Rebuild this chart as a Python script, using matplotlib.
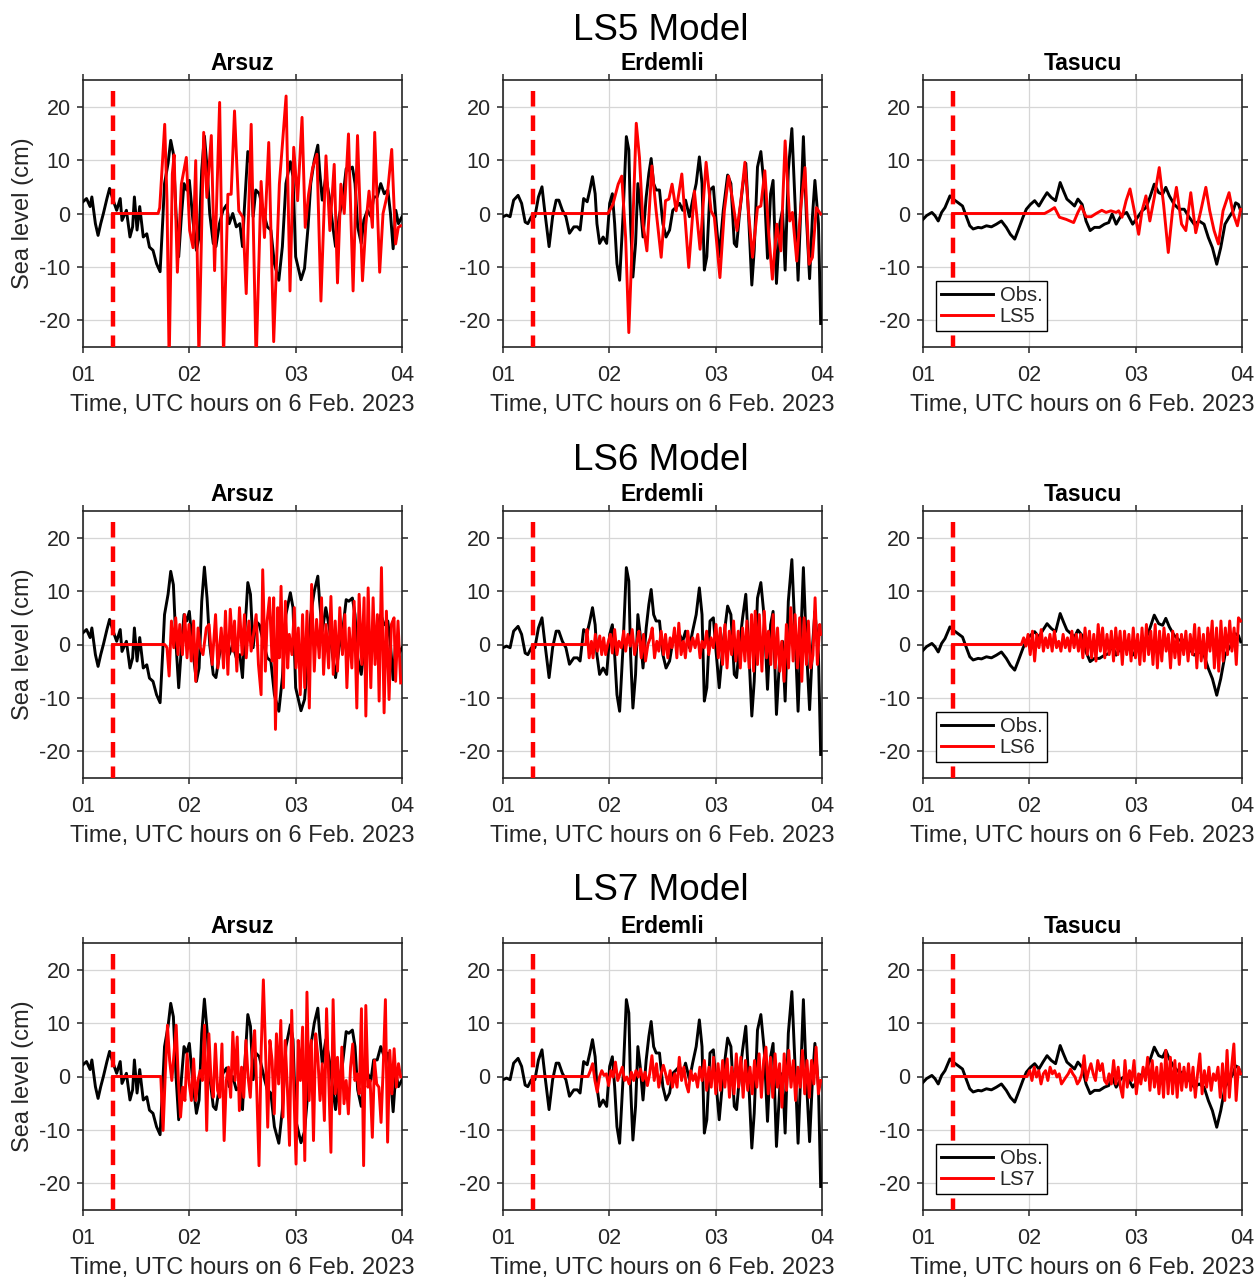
import numpy as np
import matplotlib
matplotlib.use('Agg')
import matplotlib.pyplot as plt

plt.rcParams['font.family'] = ['Liberation Sans', 'DejaVu Sans']
plt.rcParams['axes.unicode_minus'] = False

# times are minutes after 01:00 UTC, sea level in cm
t_quake = 16.7

stations = ['Arsuz', 'Erdemli', 'Tasucu']
models = ['LS5', 'LS6', 'LS7']

# ---- observed records ----
arsuz_obs_t = [0, 2, 4, 5, 7, 8.5, 10, 11.5, 13.5, 15, 17, 19, 21, 22, 24.5, 26.5, 28, 29, 30.5, 32,
               34, 36, 37.5, 39.5, 41.5, 43.5, 45, 46, 48, 49.5, 51, 52.5, 54, 55.5, 57, 58.5, 60, 62, 64, 65.5,
               67, 68.5, 70, 71.5, 73.5, 75, 77, 79, 81, 82.5, 84.5, 86.5, 88.5, 90, 91, 93, 94.5, 96, 97.5, 99.5,
               102.5, 104, 106, 108, 110.5, 112.5, 114.5, 117, 118.5, 120, 123, 125, 127, 128.5, 130.5, 132.5,
               133.5, 135, 137, 139, 141, 142.5, 144.5, 146.5, 148.5, 150, 152, 153.5, 155, 157, 158.5, 160.5,
               162.5, 164, 166, 168, 170, 172, 173.5, 175, 176.5, 178, 180]
arsuz_obs = [2.2, 2.8, 1.3, 3.1, -1.9, -4.1, -1.9, 0, 2.8, 4.7, 2.5, 0.6, 2.8, -1.3, 0.6, -4.4, -2.5, 3.1, -3.1, 1.3,
             -4.4, -3.8, -6.3, -6.9, -9.4, -10.9, -1.3, 5.6, 9.4, 13.7, 11.2, 0, -8.1, -0.6, 5.6, 4.4, 6.2, -1.2, -6.9, -4.4,
             8.1, 14.5, 8.7, 0, -5.6, -6.2, -1.9, 0.6, 1.6, -1.9, 0, -2.5, -1.9, -6.2, 0.6, 11.6, 9.4, -0.6, 4.4, 3.7,
             -0.6, -2.5, -3.1, -9.4, -12.5, -6.2, 5.6, 9.7, 6.9, -8.1, -12.4, -10.3, -2.5, 5.6, 10, 12.8, 8.1, 2.5, 6.9, 3.1,
             -2.5, -6.2, -0.6, 2.5, 8.4, 8.1, 8.7, 5.6, -2.5, -5.6, -1.2, 0.6, -0.6, 3.1, 3.1, 5.6, 3.7, 4.4, 0, -6.6,
             0.6, -1.9, -0.6]

erdemli_obs_t = [0, 2, 4, 6, 8.5, 10.5, 12.5, 14, 16, 18, 20, 22, 23.5, 26, 28, 30, 31.5, 33.5, 35.5, 37.5,
                 40, 42, 43.5, 45.5, 47.5, 49, 50.5, 52, 53, 54.5, 56.5, 58.5, 60.2, 61.7, 63, 64.3, 65.8, 67.7, 69.6, 71,
                 72, 73.3, 74.8, 76.1, 77.4, 79, 80.8, 82.3, 83.6, 85, 86.4, 88.3, 90.2, 92, 94, 95.8, 97.7, 99.6, 101.4, 103,
                 105.2, 107, 109, 110.8, 112.3, 113.6, 115, 116.8, 118.7, 120.2, 122, 124.3, 126.75, 128.6, 130.5, 131.8,
                 133.3, 135.2, 137, 138.6, 140.4, 141.75, 143.6, 145.5, 147.4, 149.25, 151, 152.4, 154.3, 156.2,
                 157.7, 159.2, 161, 163, 164.8, 166.5, 168, 169.5, 171.2, 173, 174.6, 176, 178, 179.25]
erdemli_obs = [-0.6, -0.3, -0.6, 2.5, 3.4, 1.9, -1.6, -1.9, -0.6, -0.6, 3.1, 5, 0.6, -6.2, -0.6, 2.5, 2.5, 0.6, -0.6, -3.7,
               -2.5, -2.5, -3.1, 2.8, 2.2, 4.4, 6.9, 3.7, -1.9, -5.6, -4.4, -5.6, 1.9, 3.7, -1.9, -9.4, -12.5, -0.6, 14.4, 11.9,
               -1.9, -11.9, -5.6, 5.6, 1.9, -4.4, 3.1, 7.5, 10.3, 5.6, 4.4, 4.4, -1.9, -4.4, -3.1, 0.6, 1.2, 1.9, 0.6, 2.5,
               -0.6, 2.5, 5.6, 10.6, 5.6, -10.6, -8.1, 4.4, 5, -1.2, -8.1, 0.6, 7.2, 5.6, -5.6, -6.2, -0.6, 5, 9.4, -0.6,
               -13.4, -6.9, 8.7, 11.6, 5, -8.4, 3.7, 6.2, -13.1, -1.9, 0.6, -10.6, 8.1, 15.9, 1.9, -12.5, 0.6, 14.4, -0.6, -12.2,
               -0.6, 6.2, -1.9, -20.6]

tasucu_obs_t = [0, 2, 5, 6.75, 8.6, 10.5, 12.4, 15.2, 17, 19.9, 22.3, 24.6, 26.4, 28.3, 31.1, 33, 35.8, 38.6, 41.4, 44.25,
                47, 49.3, 51.75, 53.6, 56.4, 58.3, 60.6, 63, 65.4, 67.7, 70, 72.4, 74.8, 77.4, 79.3, 81.2, 83.6, 85.5, 87.4, 89.8,
                92, 94.3, 96.75, 99.6, 102.4, 104.8, 106.7, 109, 111.75, 114.9, 118.3, 121.1, 123.6, 125.8, 128, 130.5, 133,
                135.2, 137, 139, 141.75, 144.6, 147.4, 150.2, 153, 155.8, 158.6, 161, 163.3, 165.75, 168, 170.4, 172.7, 175,
                176.4, 178, 179.25]
tasucu_obs = [-1.1, -0.4, 0.2, -0.4, -1.4, 0.2, 1.1, 3.3, 2.7, 2, 1.4, -0.7, -2.3, -2.9, -2.6, -2.7, -2.3, -2.5, -2, -1.4,
              -2.6, -3.9, -4.8, -3.2, -0.7, 0.8, 1.7, 2.4, 1.4, 2.7, 3.9, 3, 2.4, 5.8, 4.2, 2.7, 2, 1.4, 2.7, 1.7,
              -1.4, -3.2, -2.6, -2.6, -2, -1.7, -0.1, -2, -0.4, 0.2, -2, -0.7, 0.5, 1.1, 3, 5.5, 3.9, 3.6, 4.9, 3.3,
              1.7, 0.8, 0.8, -0.7, -2, -1.4, -2, -4.5, -6.4, -9.5, -6.4, -2, -0.7, 0.5, 2, 1.7, 0.5]

# ---- LS5 model ----
ls5_arsuz_t = [42.4, 43.3, 46.1, 47.4, 48.6, 50.4, 51.4, 53.25, 55.5, 58.3, 60.2, 62.1, 63.6, 65.4, 68.1, 69.9, 72.4,
               74.25, 77.1, 79.3, 81.75, 83.6, 85.5, 87.9, 90.2, 92.1, 94.9, 97.7, 100.5, 102.4, 104.8, 107.6, 110.8,
               114.6, 116.8, 118.9, 121.1, 123.6, 125.4, 127.3, 129.6, 132, 134.25, 137.1, 139.3, 141.75, 143.6, 145.5,
               147.4, 149.8, 152.4, 154.9, 157.7, 159.6, 161.4, 163.3, 164.6, 167.4, 169.3, 171.75, 174.2, 176.4, 177.9, 179.25]
ls5_arsuz = [0, 1.1, 16.7, 2.4, -28, 7.4, 11, -11, 5.5, 10.5, -3.2, -6.4, 9.9, -27, 15.2, 3, 14.6, -10.7, 20.8, -27,
             3.6, 3.6, 19.2, 0.5, -0.7, -15, 16.7, -28, 6, -4.5, 13.3, -24, 5.5, 22, -14.5, 12.4, 2.4, 18, -2.6, 3.6,
             8.6, 11.1, -16.4, 10.8, -3.2, 9.2, -13, 5.5, 0, 14.9, -14.5, 14.6, -12.6, -2, 4.2, -2.6, 15.2, -11, 0, 3.6,
             12, -5.7, -2.6, -2.3]

ls5_erdemli_t = [59.25, 62, 65, 67, 69.2, 71, 73, 75.2, 77, 79, 81.2, 84, 86.4, 89.25, 91.7, 93.6, 95.4, 97.7, 100.9, 103,
                 104.8, 108, 111.2, 114.6, 117.4, 119.25, 122.4, 124.9, 127.3, 129.6, 132, 134.25, 136.5, 138.6, 140.8,
                 143.6, 145.5, 147.75, 149.8, 152, 154.5, 156.75, 159.2, 161.8, 163.3, 165.75, 168, 170.4, 172.7, 174.6,
                 176.8, 179.25]
ls5_erdemli = [0, 1.7, 5.5, 7, -4.5, -22.3, -4.5, 16.9, 10.5, -2, -7, 8.9, 0.5, -8.2, 2.4, 2.7, 5.5, 0.5, 7.4, -2,
               -10.1, 4.2, -6.7, 9.6, 0.5, -0.7, -12, 0.5, 7, 2.4, -3.2, 2.4, 9.6, 0, -8.2, 1.1, 1.4, 8, -3.2, -12.3,
               -2, -7, 13.6, -1.4, 0.2, -8.9, 1.1, 8.6, -9.5, -8.2, 1.1, -0.1]

ls5_tasucu_t = [68.6, 71.4, 74.25, 77, 80.8, 85, 87.4, 89.25, 92, 94.9, 97.7, 100.9, 103.3, 106, 109, 110.4, 112.3, 114.6,
                116.8, 119.25, 121.7, 123.6, 125.8, 128, 130.5, 133.3, 135.75, 138.4, 140.8, 143, 145.9, 148.3, 151.1,
                153.9, 156.75, 159.6, 161.8, 164.25, 166.7, 169.3, 172.7, 175, 177.4, 179.25]
ls5_tasucu = [0, 0.5, 1.1, -0.7, -1.1, -1.7, 0.2, 1.4, -0.6, -0.6, 0, 0.6, 0.2, 0.5, 0.2, 0.5, -0.7, 2.4, 4.6, 0.5,
              -3.9, 0.5, 3.3, -1.4, 3, 8.6, 1.7, -7.3, 0.5, 4.9, -2, -3.2, 3.9, -3.6, 0.5, 4.9, 0.5, -3.2, -5.7, 0.5,
              3.9, 0, -2.3, 0.8]

# ---- LS6 model ----
ls6_arsuz_onset = 46.1
ls6_arsuz_t = [47.4, 48.6, 49.9, 51.2, 52.3, 53.6, 54.6, 56.1, 57.4, 58.7, 59.8, 61.1, 62.4, 63.6, 64.9, 66.2, 67.7, 69.6,
               71.1, 72.9, 74.8, 76.1, 78, 79.3, 80.4, 81.75, 83.1, 84.6, 85.5, 86.8, 88.3, 89.8, 91.1, 92.1, 93.6, 94.9,
               96.2, 97.7, 99, 100.5, 101.4, 102.9, 103.9, 105.2, 106.7, 107.6, 108.6, 109.9, 110.8, 111.75, 113.1, 114.2,
               115.5, 116.4, 117.9, 119.25, 120.2, 121.5, 122.6, 123.9, 125.1, 126.4, 127.7, 129, 130.5, 131.8, 133.3,
               134.6, 135.75, 137.1, 138.6, 139.9, 141.2, 142.3, 143.6, 144.9, 146.4, 147.75, 148.9, 150.2, 151.7, 153,
               154.5, 155.8, 157.3, 158.6, 159.6, 160.9, 162.4, 163.7, 164.8, 166.1, 167.1, 168.4, 169.9, 171.2, 172.7,
               174, 175.5, 176.4, 177.75, 179.25]
ls6_arsuz = [-0.6, -5.9, 4.4, -0.6, 5, -1.9, 3.75, -1.9, 5.6, -2.5, 3.75, -3.1, 4.4, -6.9, 3.1, -0.6, -1.9, 3.1, 3.75, -3.75,
             5.6, -4.4, 3.1, -4.4, 6.25, -5.6, 6.6, -1.25, 4.4, -5, 6.9, -1.9, 5.6, -2.5, 4.4, -1.25, 1.9, 5.6, -3.75, -9.4,
             14, -5, 4.4, 8.75, -3.1, 8.75, -15.9, 6.9, -2.5, 10.9, -8.1, 8.1, -4.4, 1.9, -1.9, 6.9, -4.4, 3.1, -9.4, 5.6,
             -8.1, 6.25, -11.9, 11.25, -5, 4.7, -2.5, 8.75, -5.6, 3.75, -4.4, 9, -5.6, 4.4, -5, 6.9, -1.9, 5.6, -8.1, 3.1,
             -4.4, 8.1, -11.9, 9.4, -3.75, 8.75, -13.4, 10.6, -8.1, 8.75, -3.75, 5.6, -10.6, 14.4, -12.8, 6.25, -10.3, 3.75,
             5, -6.9, 4.4, -7.2]

ls6_erdemli_onset = 46.7
ls6_erdemli_t = [47.4, 48.6, 49.9, 50.8, 52.1, 53.25, 54.6, 55.7, 56.8, 57.9, 59.25, 60.6, 61.7, 63, 64.3, 65.4, 66.75,
                 68.1, 69.2, 70.5, 71.8, 72.9, 74.25, 75.6, 76.7, 78, 79.3, 80.4, 81.75, 83.1, 84.2, 85.5, 86.8, 87.9,
                 89.25, 90.6, 91.7, 93, 94.3, 95.4, 96.75, 98.1, 99.2, 100.5, 101.8, 102.9, 104.25, 105.6, 107.1, 108.4,
                 109.9, 111.2, 112.3, 113.6, 114.9, 116.1, 117.4, 118.7, 120.2, 121.5, 122.6, 123.9, 125.25, 126.4, 127.7,
                 129, 130.1, 131.4, 132.75, 133.9, 135.2, 136.5, 137.6, 138.9, 140.25, 141.4, 142.3, 143.6, 144.6, 146.1,
                 147.4, 148.7, 149.8, 151.1, 152.4, 153.6, 154.9, 156.2, 157.3, 158.6, 159.9, 161.1, 162.4, 163.7, 164.8,
                 166.1, 167.4, 168.6, 169.9, 171.2, 172.3, 173.6, 174.9, 176.1, 177.4, 178.7, 179.25]
ls6_erdemli = [2.8, -2.5, 0.6, -2.5, 1.9, -1.25, 1.6, -1.9, 1.25, -1.9, 0.3, 1.9, -1.6, 2.8, -1.9, 0.6, -0.6, 2.5, -1.25, 1.9,
               -0.3, 2.8, -1.9, 0.6, 2.5, -2.5, 1.9, -3.1, 0, 1.25, 3.1, -2.5, 0.6, -1.25, 2.5, -1.9, 1.9, -2.5, 1.25, -0.6,
               3.1, -2.5, 4, -1.9, 0.6, -2.5, 2.5, -1.25, 1.25, -0.6, 1.9, -2.5, 0.6, -0.6, 2.5, -1.9, 1.25, -0.6, 3.75, -2.5,
               3.1, -3.75, 3.75, -4.4, 2.5, -1.9, 4.4, -3.1, 2.5, -4.4, 3.1, -3.1, 4.4, -4.4, 5.6, -5, 6.25, -3.75, 5.6, -5,
               6.25, -2.5, 2.5, -3.75, 5.6, -4.4, 3.1, -5, 0.6, -6.9, 3.75, -4.4, 6.9, -3.1, 5.6, -4.4, 5, -6.9, 5, -3.75,
               4.4, -4.4, -2, 8.75, -3.75, 3.75, 1.9]

ls6_tasucu_onset = 55.5
ls6_tasucu_span = (56.8, 179.25)
ls6_tasucu = [1.25, -0.3, 1.9, -1.9, 2.5, -3.1, 1.9, -0.6, 2.8, -1.25, 1.25, -0.6, 1.9, -1.25, 2.5, -0.6, 0.6, -1.25, 1.9, -0.6,
              1.25, -1.25, 2.5, -0.6, 1.9, -1.25, 1.9, -2.5, 3.1, -1.9, 2.5, -2.5, 1.9, -3.1, 3.75, -1.25, 3.1, -2.5, 1.9, -1.9,
              2.5, -3.1, 3.1, -1.9, 2.5, -3.75, 2.5, -1.9, 1.9, -3.1, 3.1, -2.5, 1.9, -3.75, 3.1, -3.1, 3.75, -1.9, 2.5, -3.75,
              3.75, -4.4, 2.5, -3.1, 3.1, -1.25, 1.9, -4.4, 2.5, -2.5, 1.9, -3.75, 1.9, -1.9, 2.5, -3.1, 1.9, -1.9, 3.75, -4.4,
              3.1, -3.1, 1.9, -4.4, 3.1, -1.25, 4.4, -4.4, 3.1, -5, 4.4, -3.1, 3.1, -1.9, 4.4, -1.25, 3.1, -3.75, 5, 4.4]

# ---- LS7 model ----
ls7_arsuz_onset = 43.9
ls7_arsuz_span = (45.2, 179.25)
ls7_arsuz = [-10.1, 0.5, 9.6, 3, -0.75, 4.25, 9.6, -0.75, -7.6, -2, -4.5, 4.25, -1.4, -4.5, 3.3, -4.5, -0.75, 1.1, -0.75, 9.6,
             -10.1, 8, -0.75, -3.9, 6.1, -2.6, -3.9, 6.1, -12, -0.75, 1.75, -3.9, 8.3, -0.75, 7.4, -6.4, 1.75, -3.9, 6.75, -0.1,
             -3.9, 4.9, 8.6, -2.9, -16.7, 4.9, 18.1, 4.9, -9.5, 6.75, 3, -7, 8, -1.4, 10.5, -7.6, 6.75, -2, -12.9, 12.4,
             -2.6, -16.4, 6.75, -0.75, 9.25, -15.75, 15.8, -4.5, 6.75, -12, 8, 3.6, -4.5, 2.4, -8.25, 12.7, -0.75, -14.2, 14.4, -3.25,
             3.6, -7, 5.5, -5.1, -0.75, -7, 1.75, 6.1, -0.75, 0.5, -3.25, 12.7, -16.7, 13.3, -2, -0.75, -11.4, 3, -1.4, -2,
             -8.6, 1.75, 14.4, -12.3, 4.9, -3.25, 5.2, -2, 2.4, -0.1]

ls7_erdemli_onset = 48.0
ls7_erdemli_span = (49.3, 179.25)
ls7_erdemli = [1.1, 2.4, -0.75, -2.9, -0.1, 1.1, 0.2, 0.5, -1.7, 1.1, -0.1, 2.7, -0.75, 0.5, 1.75, -0.75, -0.1, -1.4, 0.8, -0.75,
               1.1, -0.1, 1.4, -0.75, 0.8, -1.7, 0.5, 3.9, -0.75, 2.4, -2, 0.5, 2.1, 0.5, -1.4, 1.1, -2, 0.5, -2, 3.6,
               -0.75, 1.75, -1.4, -2.9, 1.1, -0.75, 0.5, -2, 1.75, -0.75, 3, -2.6, 1.75, -2, 3.6, -3.25, 2.4, -2.6, 3, -2,
               3.3, -3.9, 1.75, -3.25, 4.25, -2, 3.6, -3.9, 3, -2.6, 1.75, -3.25, 3, -2, 4.25, -3.9, 3, 5.5, -3.25, 3.6,
               -3.9, 4.25, -2, 2.4, -5.75, 4.25, -2.6, 4.9, -2, 3, -4.5, 1.75, -2, 4.9, -3.25, 3, -3.9, 3, -1.4, 5.5,
               -3.25, -0.75]

ls7_tasucu_onset = 58.7
ls7_tasucu_span = (60.2, 179.25)
ls7_tasucu = [1.1, -0.75, 1.75, -0.1, 1.1, -1.4, 0.5, 1.1, -0.75, 1.75, 0.5, 1.1, -0.1, 0.5, -1.4, -0.75, -0.1, 0.5, 1.4, 0.5,
              -0.1, -1.4, -0.75, 0.5, 3.9, -0.75, 1.1, 2.4, 0.5, -0.75, 3, 1.1, 2.4, -0.75, -1.4, 0.5, -1.4, 3, -1.4, 1.75,
              -2, -3.9, 3, -2, 1.1, -0.75, 3, -3.25, 0.5, -1.4, 1.75, -0.75, 3.6, -2.6, 3, -2, 1.75, -3.25, 2.4, -3.9,
              4.9, -3.25, 3.6, -3.25, 3, -3.9, 2.4, -2.6, 1.75, -2, 2.4, -2.6, 1.75, -3.9, 0.5, 4.25, -3.25, 1.1, -2, 1.75,
              -2.6, 0.5, -0.75, 1.75, -3.9, 2.4, -4.5, 4.9, -3.9, 1.75, 6.1, -4.5, 1.75, 0.5]


def hours(t):
    return 1 + np.asarray(t, dtype=float) / 60.0


def with_flat(onset, t, v):
    # model is zero from the earthquake until the wave arrives
    tt = np.concatenate([[t_quake, onset], np.asarray(t, dtype=float)])
    vv = np.concatenate([[0.0, 0.0], np.asarray(v, dtype=float)])
    return hours(tt), vv


def sampled(span, v):
    return np.linspace(span[0], span[1], len(v))


obs = {
    'Arsuz': (hours(arsuz_obs_t), np.array(arsuz_obs)),
    'Erdemli': (hours(erdemli_obs_t), np.array(erdemli_obs)),
    'Tasucu': (hours(tasucu_obs_t), np.array(tasucu_obs)),
}

sim = {
    ('LS5', 'Arsuz'): with_flat(ls5_arsuz_t[0], ls5_arsuz_t, ls5_arsuz),
    ('LS5', 'Erdemli'): with_flat(ls5_erdemli_t[0], ls5_erdemli_t, ls5_erdemli),
    ('LS5', 'Tasucu'): with_flat(ls5_tasucu_t[0], ls5_tasucu_t, ls5_tasucu),
    ('LS6', 'Arsuz'): with_flat(ls6_arsuz_onset, ls6_arsuz_t, ls6_arsuz),
    ('LS6', 'Erdemli'): with_flat(ls6_erdemli_onset, ls6_erdemli_t, ls6_erdemli),
    ('LS6', 'Tasucu'): with_flat(ls6_tasucu_onset, sampled(ls6_tasucu_span, ls6_tasucu), ls6_tasucu),
    ('LS7', 'Arsuz'): with_flat(ls7_arsuz_onset, sampled(ls7_arsuz_span, ls7_arsuz), ls7_arsuz),
    ('LS7', 'Erdemli'): with_flat(ls7_erdemli_onset, sampled(ls7_erdemli_span, ls7_erdemli), ls7_erdemli),
    ('LS7', 'Tasucu'): with_flat(ls7_tasucu_onset, sampled(ls7_tasucu_span, ls7_tasucu), ls7_tasucu),
}

W, H = 1257, 1278
fig = plt.figure(figsize=(W / 100, H / 100), dpi=100)

col_left = [83, 503, 923]
row_top = [80, 511, 943]
ax_w, ax_h = 319, 267
row_title_y = [30, 460, 890]
txt = '#262626'

for i, model in enumerate(models):
    fig.text(661 / W, 1 - row_title_y[i] / H, model + ' Model', ha='center', va='center', fontsize=26.5)
    for j, st in enumerate(stations):
        ax = fig.add_axes([col_left[j] / W, 1 - (row_top[i] + ax_h) / H, ax_w / W, ax_h / H])
        ox, oy = obs[st]
        mx, my = sim[(model, st)]
        ax.plot(ox, oy, color='k', lw=2.1, label='Obs.', zorder=3)
        ax.plot(mx, my, color='r', lw=2.1, label=model, zorder=4)
        # earthquake time
        ax.plot([hours(t_quake), hours(t_quake)], [23, -25], color='r', lw=3.2,
                ls=(0, (3.5, 2.0)), zorder=5)

        ax.set_xlim(1, 4)
        ax.set_ylim(-25, 25)
        ax.set_xticks([1, 2, 3, 4])
        ax.set_xticklabels(['01', '02', '03', '04'])
        ax.set_yticks([-20, -10, 0, 10, 20])
        ax.grid(True, color='#d6d6d6', lw=0.9)
        ax.set_axisbelow(True)
        ax.tick_params(direction='out', top=True, right=True, length=4, width=1.1,
                       labelsize=15.5, color=txt, labelcolor=txt)
        ax.tick_params(axis='x', pad=9)
        ax.tick_params(axis='y', pad=5)
        for s in ax.spines.values():
            s.set_linewidth(1.2)
            s.set_color(txt)
        ax.set_title(st, fontsize=16.5, fontweight='bold', pad=7)
        ax.set_xlabel('Time, UTC hours on 6 Feb. 2023', fontsize=17, labelpad=6, color=txt)
        if j == 0:
            ax.set_ylabel('Sea level (cm)', fontsize=17, labelpad=4, color=txt)
        if j == 2:
            leg = ax.legend(loc='lower left', bbox_to_anchor=(0.041, 0.06), borderaxespad=0,
                            fontsize=14.5, fancybox=False, edgecolor='k', framealpha=1,
                            handlelength=2.6, handletextpad=0.3, borderpad=0.25, labelspacing=0.1)
            leg.get_frame().set_linewidth(1.0)
            for tx in leg.get_texts():
                tx.set_color(txt)
            leg.set_zorder(10)

fig.savefig('out.png', dpi=100)
